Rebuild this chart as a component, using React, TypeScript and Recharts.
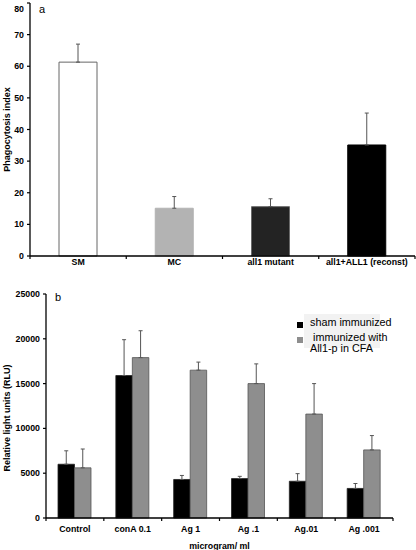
import React from 'react';
import { BarChart, Bar, XAxis, YAxis, ErrorBar, Cell, Legend } from 'recharts';

// ---- Panel a ----
const groupsA = ['SM', 'MC', 'all1 mutant', 'all1+ALL1 (reconst)'];
const valuesA = [61.3, 15.1, 15.6, 35.1];
const errorsA = [5.7, 3.7, 2.5, 10.1];
const fillsA = ['#ffffff', '#b3b3b3', '#232323', '#000000'];
const strokesA = ['#666666', '#b3b3b3', '#6a6a6a', '#000000'];
const yTicksA = [0, 10, 20, 30, 40, 50, 60, 70, 80];

// ---- Panel b ----
const groupsB = ['Control', 'conA 0.1', 'Ag 1', 'Ag .1', 'Ag.01', 'Ag .001'];
const shamValues = [6000, 15900, 4300, 4400, 4100, 3300];
const shamErrors = [1500, 4000, 450, 250, 850, 550];
const immValues = [5600, 17900, 16500, 15000, 11600, 7600];
const immErrors = [2100, 3000, 900, 2200, 3400, 1600];
const yTicksB = [0, 5000, 10000, 15000, 20000, 25000];
const seriesNames = ['sham immunized', ' immunized with\nAll1-p in CFA'];
const seriesColors = ['#000000', '#8e8e8e'];

const FONT = '"Liberation Sans", Arial, sans-serif';

const dataA = groupsA.map((g, i) => ({ x: i + 0.5, name: g, value: valuesA[i], err: [0, errorsA[i]] }));
const dataB = groupsB.map((g, i) => ({
  x: i + 0.5,
  name: g,
  sham: shamValues[i],
  shamErr: [0, shamErrors[i]],
  imm: immValues[i],
  immErr: [0, immErrors[i]],
}));

const catTicks = (n: number) => {
  const t: number[] = [];
  for (let i = 0; i <= n * 2; i++) t.push(i / 2);
  return t;
};

const makeCatTick = (labels: string[], gap: number) => (props: any) => {
  const { x, y, payload } = props;
  const v = payload.value;
  if (Number.isInteger(v)) {
    return <line x1={x} x2={x} y1={y} y2={y + 3} stroke="#000" strokeWidth={1.2} />;
  }
  return (
    <text x={x} y={y + gap} dy="0.71em" textAnchor="middle" fontFamily={FONT} fontSize={8.8} fontWeight="bold" fill="#000">
      {labels[Math.floor(v)]}
    </text>
  );
};

const yTick = (props: any) => {
  const { x, y, payload } = props;
  return (
    <text x={x} y={y} dy="0.35em" textAnchor="end" fontFamily={FONT} fontSize={8.8} fontWeight="bold" fill="#000">
      {payload.value}
    </text>
  );
};

const yLabel = (text: string, shift: number) => (props: any) => {
  const { viewBox } = props;
  const cx = 7;
  const cy = viewBox.y + viewBox.height / 2 + shift;
  return (
    <text x={cx} y={cy} transform={`rotate(-90 ${cx} ${cy})`} textAnchor="middle" dominantBaseline="central" fontFamily={FONT} fontSize={9} fontWeight="bold" fill="#000">
      {text}
    </text>
  );
};

const legendContent = (props: any) => {
  const payload = [...(props.payload || [])].sort(
    (a: any, b: any) => seriesNames.indexOf(a.value) - seriesNames.indexOf(b.value)
  );
  return (
    <div style={{ position: 'relative', width: 100, height: 44, fontFamily: FONT, fontSize: 10.8, color: '#000' }}>
      <div style={{ position: 'absolute', left: 8, top: 0, width: 76, height: 34, background: '#f2f2f2' }} />
      {payload.map((p: any, i: number) => (
        <div key={i} style={{ position: 'absolute', left: 0, top: 3 + i * 15 }}>
          <div style={{ position: 'absolute', left: 1, top: 5, width: 6, height: 6, background: p.color }} />
          <div style={{ position: 'absolute', left: 14, top: 0, whiteSpace: 'pre', lineHeight: '11px' }}>{p.value}</div>
        </div>
      ))}
    </div>
  );
};

export default function App() {
  return (
    <div style={{ position: 'absolute', left: 0, top: 0, width: 416, height: 550, background: '#fff' }}>
      <div style={{ position: 'absolute', left: 0, top: 0 }}>
        <BarChart width={416} height={270} data={dataA} margin={{ top: 3, right: 1, left: 0, bottom: 0 }}>
          <XAxis
            type="number"
            dataKey="x"
            domain={[0, groupsA.length]}
            ticks={catTicks(groupsA.length)}
            interval={0}
            height={14}
            tickSize={0}
            tickMargin={0}
            tickLine={false}
            tick={makeCatTick(groupsA, 2.5)}
            axisLine={{ stroke: '#000', strokeWidth: 1.3 }}
          />
          <YAxis
            domain={[0, 80]}
            ticks={yTicksA}
            width={30}
            tickSize={3}
            tickMargin={3}
            tickLine={{ stroke: '#000', strokeWidth: 1.2 }}
            axisLine={{ stroke: '#000', strokeWidth: 1.3 }}
            tick={yTick}
            label={{ content: yLabel('Phagocytosis index', 0) }}
          />
          <Bar dataKey="value" barSize={38} isAnimationActive={false} strokeWidth={1}>
            {dataA.map((d, i) => (
              <Cell key={d.name} fill={fillsA[i]} stroke={strokesA[i]} />
            ))}
            <ErrorBar dataKey="err" direction="y" width={2} stroke="#555" strokeWidth={1} />
          </Bar>
        </BarChart>
      </div>
      <div style={{ position: 'absolute', left: 39, top: 1, fontFamily: FONT, fontSize: 11, lineHeight: '16px' }}>a</div>

      <div style={{ position: 'absolute', left: 0, top: 270 }}>
        <BarChart width={416} height={280} data={dataB} margin={{ top: 24, right: 23, left: 0, bottom: 0 }} barGap={0}>
          <XAxis
            type="number"
            dataKey="x"
            domain={[0, groupsB.length]}
            ticks={catTicks(groupsB.length)}
            interval={0}
            height={32}
            tickSize={0}
            tickMargin={0}
            tickLine={false}
            tick={makeCatTick(groupsB, 8)}
            axisLine={{ stroke: '#000', strokeWidth: 1.3 }}
            label={{
              content: (p: any) => (
                <text x={p.viewBox.x + p.viewBox.width / 2} y={276} textAnchor="middle" dominantBaseline="central" fontFamily={FONT} fontSize={8.8} fontWeight="bold" fill="#000">
                  microgram/ ml
                </text>
              ),
            }}
          />
          <YAxis
            domain={[0, 25000]}
            ticks={yTicksB}
            width={46}
            tickSize={3}
            tickMargin={3}
            tickLine={{ stroke: '#000', strokeWidth: 1.2 }}
            axisLine={{ stroke: '#000', strokeWidth: 1.3 }}
            tick={yTick}
            label={{ content: yLabel('Relative light units (RLU)', 12) }}
          />
          <Legend
            layout="horizontal"
            verticalAlign="middle"
            align="center"
            content={legendContent}
            wrapperStyle={{ left: 296, top: 44, width: 100, height: 44 }}
          />
          <Bar dataKey="sham" name={seriesNames[0]} fill={seriesColors[0]} stroke="#222" strokeWidth={0.8} barSize={16.5} isAnimationActive={false}>
            <ErrorBar dataKey="shamErr" direction="y" width={2} stroke="#555" strokeWidth={1} />
          </Bar>
          <Bar dataKey="imm" name={seriesNames[1]} fill={seriesColors[1]} stroke="#555" strokeWidth={0.8} barSize={16.5} isAnimationActive={false}>
            <ErrorBar dataKey="immErr" direction="y" width={2} stroke="#555" strokeWidth={1} />
          </Bar>
        </BarChart>
      </div>
      <div style={{ position: 'absolute', left: 55, top: 289, fontFamily: FONT, fontSize: 11, lineHeight: '16px' }}>b</div>
    </div>
  );
}
